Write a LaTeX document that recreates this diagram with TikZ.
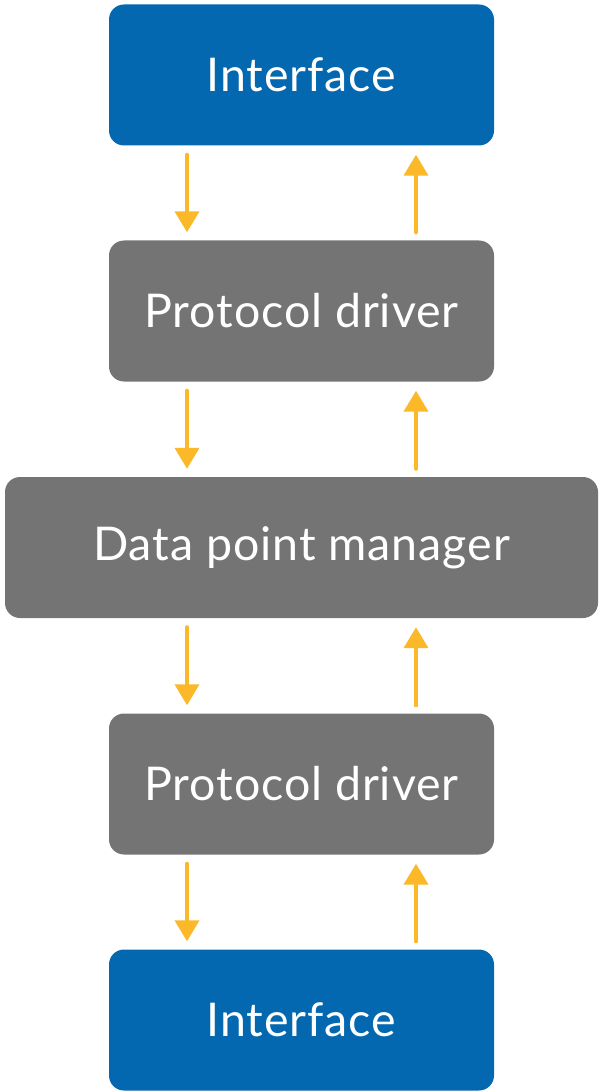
\documentclass[tikz,border=0pt]{standalone}
\usepackage{fontspec}
\setmainfont{Lato}
\usetikzlibrary{arrows.meta}
\definecolor{ifblue}{HTML}{0468B1}
\definecolor{drvgray}{HTML}{737473}
\definecolor{arrowyellow}{HTML}{FBB829}
\newcommand{\boxtext}[1]{\raisebox{-3pt}{\addfontfeatures{LetterSpace=2}#1}}
\tikzset{
  box/.style={rectangle, rounded corners=15pt, minimum height=141pt, inner sep=0pt,
    text=white, font=\fontsize{46.5}{54}\selectfont},
  ifbox/.style={box, fill=ifblue, minimum width=385pt},
  drvbox/.style={box, fill=drvgray, minimum width=385pt},
  dpmbox/.style={box, fill=drvgray, minimum width=593pt},
  flow/.style={draw=arrowyellow, line width=4pt, line cap=round,
    -{Triangle[width=24pt,length=21pt]}},
}
\begin{document}
\begin{tikzpicture}[x=1pt,y=-1pt]
\useasboundingbox (0,0) rectangle (598,1091);
\coordinate (L) at (187,0);
\coordinate (R) at (416,0);
\node[ifbox]  (i1) at (301.5,75)    {\boxtext{Interface}};
\node[drvbox] (p1) at (301.5,311)   {\boxtext{Protocol driver}};
\node[dpmbox] (d)  at (301.5,547.5) {\boxtext{Data point manager}};
\node[drvbox] (p2) at (301.5,784)   {\boxtext{Protocol driver}};
\node[ifbox]  (i2) at (301.5,1020)  {\boxtext{Interface}};
\foreach \a/\b in {i1/p1,p1/d,d/p2,p2/i2}{
  \draw[flow] ([yshift=-9pt]\a.south -| L) -- ([yshift=8pt]\b.north -| L);
  \draw[flow] ([yshift=8pt]\b.north -| R) -- ([yshift=-9pt]\a.south -| R);
}
\end{tikzpicture}
\end{document}
